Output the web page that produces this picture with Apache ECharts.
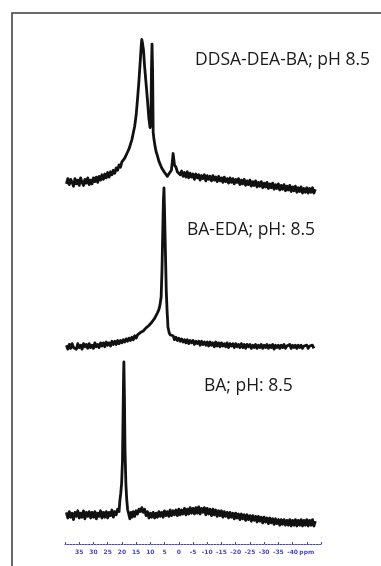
<!DOCTYPE html>
<html>
<head>
<meta charset="utf-8">
<script src="https://cdn.jsdelivr.net/npm/echarts@6/dist/echarts.min.js"></script>
<style>
html,body{margin:0;padding:0;background:#fff;}
#chart{width:381px;height:566px;}
</style>
</head>
<body>
<div id="chart"></div>
<script>
// Chemical shift axis (ppm), tick labels every 5 ppm
const ppmMin = -50;
const ppmMax = 40;
const ppmStep = 5;
const unitLabel = 'ppm';

// Trace labels
const traceNames = ['DDSA-DEA-BA; pH 8.5', 'BA-EDA; pH: 8.5', 'BA; pH: 8.5'];

// Spectrum 1: DDSA-DEA-BA; pH 8.5  [ppm, intensity a.u.]
const specDDSA = [
[39.5,4],[39,7.5],[38.5,3.5],[38,7],[37.5,5],[37,2.5],[36.5,7.5],[36,4],[35.5,6.5],[35,3],
[34.5,8],[34,5],[33.5,3],[33,7],[32.5,4.5],[32,8],[31.5,3.5],[31,6.5],[30.5,4],[30,8],
[29.5,5.5],[29,8.5],[28.5,5],[28,9],[27.5,6.5],[27,10],[26.5,7],[26,10.5],[25.5,8],[25,11.5],
[24.5,8.5],[24,12],[23.5,10],[23,13],[22.5,11],[22,14.5],[21.5,13],[21,16.5],[20.5,15],[20,18.5],
[19.5,18],[19,21],[18.5,22],[18,25],[17.5,27],[17,30],[16.5,33],[16,37.5],[15.5,42],[15,49],
[14.5,60],[14,72],[13.5,86],[13.2,95],[13,99],[12.8,97],[12.4,92],[12,81],[11.5,70],[11,59],
[10.5,47],[10.1,41],[9.8,43],[9.6,80],[9.4,96],[9.2,78],[9.0,38],[8.7,33],[8.3,28.5],[8,25.5],
[7.5,22.5],[7,19],[6.5,18],[6,14.5],[5.5,14],[5,11.5],[4.5,11.5],[4,9],[3.5,10.5],[3,9.5],
[2.6,13],[2.3,18],[2,24],[1.8,21],[1.5,16.5],[1,15],[0.5,12],[0,13],[-0.5,10],[-1,12.5],
[-1.5,9],[-2,11.5],[-2.5,8.5],[-3,12],[-3.5,8],[-4,11],[-4.5,8.5],[-5,10.5],[-5.5,7],[-6,10.5],
[-6.5,8],[-7,10],[-7.5,6.5],[-8,9.5],[-8.5,7.5],[-9,10],[-9.5,6],[-10,9.5],[-10.5,7],[-11,9],
[-11.5,6],[-12,9.5],[-12.5,6.5],[-13,8.5],[-13.5,5.5],[-14,9],[-14.5,6],[-15,8],[-15.5,5],[-16,8.5],
[-16.5,5.5],[-17,7.5],[-17.5,4.5],[-18,8],[-18.5,5],[-19,7.5],[-19.5,4],[-20,7],[-20.5,5],[-21,7.5],
[-21.5,3.5],[-22,6.5],[-22.5,4],[-23,7],[-23.5,3],[-24,6],[-24.5,3.5],[-25,6.5],[-25.5,2.5],[-26,5.5],
[-26.5,3],[-27,6],[-27.5,2],[-28,5],[-28.5,2.5],[-29,5.5],[-29.5,1.5],[-30,4.5],[-30.5,2],[-31,5],
[-31.5,1],[-32,4],[-32.5,1.5],[-33,4.5],[-33.5,0.5],[-34,3.5],[-34.5,1],[-35,4],[-35.5,0],[-36,3],
[-36.5,0.5],[-37,3.5],[-37.5,-0.5],[-38,2.5],[-38.5,0],[-39,3],[-39.5,-1],[-40,2],[-40.5,-0.5],[-41,2.5],
[-41.5,-1.5],[-42,1.5],[-42.5,-1],[-43,2],[-43.5,-2],[-44,1],[-44.5,-1.5],[-45,1.5],[-45.5,-2],[-46,1],
[-46.5,-1.5],[-47,1.5],[-47.5,-2],[-48,0.5]
];

// Spectrum 2: BA-EDA; pH 8.5
const specBAEDA = [
[39.5,0.5],[39,-2],[38.5,1],[38,-1.5],[37.5,1.5],[37,-1],[36.5,0],[36,-2],[35.5,1.5],[35,-1],
[34.5,0.5],[34,-2],[33.5,1.5],[33,-0.5],[32.5,1],[32,-1.5],[31.5,1.5],[31,-1],[30.5,0.5],[30,-1.5],
[29.5,2],[29,-0.5],[28.5,1],[28,-1],[27.5,2],[27,0],[26.5,2],[26,-0.5],[25.5,2.5],[25,0.5],
[24.5,2],[24,0],[23.5,3],[23,1],[22.5,3],[22,1],[21.5,3.5],[21,1.5],[20.5,3.5],[20,2],
[19.5,4],[19,2.5],[18.5,4.5],[18,3],[17.5,5],[17,3.5],[16.5,5.5],[16,4],[15.5,6.5],[15,5],
[14.5,7],[14,6.5],[13.5,8.5],[13,8],[12.5,9.5],[12,9.5],[11.5,11.5],[11,11],[10.5,13],[10,13],
[9.5,15],[9,15],[8.5,17.5],[8,18],[7.5,21],[7,23],[6.6,26],[6.2,31],[5.9,48],[5.6,75],
[5.4,92],[5.2,100],[5.0,85],[4.7,60],[4.4,35],[4.1,22],[3.8,12],[3.4,8.5],[3,7],[2.5,6],
[2,6.5],[1.5,4],[1,5.5],[0.5,3.5],[0,5],[-0.5,3],[-1,4.5],[-1.5,2.5],[-2,4],[-2.5,2],
[-3,4],[-3.5,1.5],[-4,3.5],[-4.5,2],[-5,3.5],[-5.5,1],[-6,3],[-6.5,1.5],[-7,3],[-7.5,0.5],
[-8,3],[-8.5,1],[-9,2.5],[-9.5,0.5],[-10,2.5],[-10.5,0],[-11,2.5],[-11.5,0.5],[-12,2],[-12.5,-0.5],
[-13,2.5],[-13.5,0],[-14,2],[-14.5,-0.5],[-15,2],[-15.5,0],[-16,1.5],[-16.5,-0.5],[-17,2],[-17.5,-1],
[-18,1.5],[-18.5,0],[-19,1.5],[-19.5,-1],[-20,1.5],[-20.5,-0.5],[-21,1],[-21.5,-1],[-22,1.5],[-22.5,-1],
[-23,1],[-23.5,-1.5],[-24,1],[-24.5,-0.5],[-25,1],[-25.5,-1.5],[-26,0.5],[-26.5,-1],[-27,1],[-27.5,-1.5],
[-28,0.5],[-28.5,-1],[-29,1],[-29.5,-1.5],[-30,0.5],[-30.5,-1],[-31,1],[-31.5,-1.5],[-32,0.5],[-32.5,-1],
[-33,1],[-33.5,-2],[-34,0.5],[-34.5,-1],[-35,0.5],[-35.5,-1.5],[-36,0.5],[-36.5,-1],[-37,1],[-37.5,-1.5],
[-38,0],[-38.5,-1],[-39,1],[-39.5,-1.5],[-40,0.5],[-40.5,-1],[-41,0.5],[-41.5,-1.5],[-42,0.5],[-42.5,-1],
[-43,0.5],[-43.5,-1.5],[-44,0],[-44.5,-1],[-45,0.5],[-45.5,-1.5],[-46,0],[-46.5,-1],[-47,0.5],[-47.5,-1.5]
];

// Spectrum 3: BA; pH 8.5
const specBA = [
[39.5,6],[39,2.5],[38.5,6.5],[38,3],[37.5,5.5],[37,1.5],[36.5,6],[36,3.5],[35.5,7],[35,2.5],
[34.5,5.5],[34,3],[33.5,7],[33,2],[32.5,6],[32,3.5],[31.5,6.5],[31,2.5],[30.5,6],[30,3],
[29.5,6.5],[29,2],[28.5,5.5],[28,3.5],[27.5,7],[27,2.5],[26.5,6],[26,3],[25.5,6.5],[25,2.5],
[24.5,6],[24,4],[23.5,7.5],[23,3],[22.5,6.5],[22,4.5],[21.5,8],[21,6.5],[20.7,13.5],[20.4,18],
[20.1,24],[19.8,38],[19.6,65],[19.4,92],[19.3,100],[19.1,78],[18.9,45],[18.6,24],[18.3,14],[18,8],
[17.6,5],[17.2,2],[16.8,6],[16.4,3],[16,6.5],[15.5,3.5],[15,7],[14.5,5],[14,8],[13.5,6.5],
[13,9],[12.5,6],[12,8],[11.5,4],[11,6.5],[10.5,2.5],[10,5.5],[9.5,3],[9,6],[8.5,2.5],
[8,5.5],[7.5,3],[7,6.5],[6.5,3.5],[6,6],[5.5,3],[5,7],[4.5,4],[4,6.5],[3.5,3.5],
[3,7.5],[2.5,4],[2,7],[1.5,4.5],[1,7.5],[0.5,4],[0,8],[-0.5,4.5],[-1,7.5],[-1.5,5],
[-2,8.5],[-2.5,4.5],[-3,8],[-3.5,5],[-4,9],[-4.5,5.5],[-5,8.5],[-5.5,5],[-6,9],[-6.5,5.5],
[-7,9.5],[-7.5,5],[-8,8.5],[-8.5,6],[-9,9],[-9.5,4.5],[-10,8.5],[-10.5,5],[-11,8],[-11.5,4],
[-12,8],[-12.5,4.5],[-13,7.5],[-13.5,3.5],[-14,7],[-14.5,4],[-15,7],[-15.5,3],[-16,6.5],[-16.5,3.5],
[-17,6],[-17.5,2.5],[-18,6],[-18.5,3],[-19,5.5],[-19.5,2],[-20,5.5],[-20.5,2.5],[-21,5],[-21.5,1.5],
[-22,5],[-22.5,2],[-23,4.5],[-23.5,1],[-24,4.5],[-24.5,1.5],[-25,4],[-25.5,0.5],[-26,4],[-26.5,1],
[-27,3.5],[-27.5,0],[-28,3.5],[-28.5,0.5],[-29,3],[-29.5,-0.5],[-30,3],[-30.5,0],[-31,2.5],[-31.5,-1],
[-32,2.5],[-32.5,-0.5],[-33,2],[-33.5,-1.5],[-34,2],[-34.5,-1],[-35,1.5],[-35.5,-2],[-36,1.5],[-36.5,-1.5],
[-37,1.5],[-37.5,-2],[-38,1],[-38.5,-2],[-39,1.5],[-39.5,-2.5],[-40,1],[-40.5,-2],[-41,1.5],[-41.5,-2.5],
[-42,1],[-42.5,-2],[-43,1.5],[-43.5,-2.5],[-44,1],[-44.5,-2],[-45,1.5],[-45.5,-2.5],[-46,1],[-46.5,-2],
[-47,1.5],[-47.5,-2.5],[-48,0.5]
];

const spectra = [specDDSA, specBAEDA, specBA];

const chart = echarts.init(document.getElementById('chart'), null, {renderer: 'canvas'});

const gridDefs = [
  {left: 65, width: 256, top: 38, height: 152},
  {left: 65, width: 256, top: 188, height: 158},
  {left: 65, width: 256, top: 362, height: 160}
];

const axisBlue = '#4848b8';

const xAxes = gridDefs.map((g, i) => ({
  type: 'value', gridIndex: i, min: ppmMin, max: ppmMax, interval: ppmStep, inverse: true,
  show: i === 2,
  position: 'bottom', offset: 22,
  splitLine: {show: false},
  axisLine: {show: true, onZero: false, lineStyle: {color: axisBlue, width: 1, type: [2, 1]}},
  axisTick: {show: true, length: 2, inside: true, lineStyle: {color: axisBlue, width: 1}},
  axisLabel: {
    color: axisBlue, fontSize: 6, fontWeight: 'bold', margin: 5, fontFamily: 'DejaVu Sans',
    formatter: v => (v === ppmMax || v === ppmMin) ? '' : (v === ppmMin + ppmStep ? unitLabel : String(v))
  }
}));

const yAxes = gridDefs.map((g, i) => ({
  type: 'value', gridIndex: i, min: 0, max: 100, show: false, splitLine: {show: false}
}));

const series = spectra.map((d, i) => ({
  type: 'line', xAxisIndex: i, yAxisIndex: i, data: d, showSymbol: false, symbol: 'none',
  clip: false, smooth: false, sampling: null,
  lineStyle: {color: '#111111', width: 2.8, join: 'round'},
  silent: true
}));

const labelPos = [[195, 60], [187, 230], [204, 386]];

const graphics = [
  {type: 'rect', shape: {x: 12, y: 13, width: 420, height: 600}, style: {fill: 'none', stroke: '#3a3a3a', lineWidth: 1.5}, silent: true, z: 10}
].concat(traceNames.map((t, i) => ({
  type: 'text', x: labelPos[i][0], y: labelPos[i][1], silent: true, z: 10,
  style: {text: t, fill: '#1a1a1a', font: '17.5px "Open Sans"', textVerticalAlign: 'middle', verticalAlign: 'middle'}
})));

chart.setOption({
  animation: false,
  backgroundColor: '#ffffff',
  grid: gridDefs,
  xAxis: xAxes,
  yAxis: yAxes,
  series: series,
  graphic: graphics
});
</script>
</body>
</html>
